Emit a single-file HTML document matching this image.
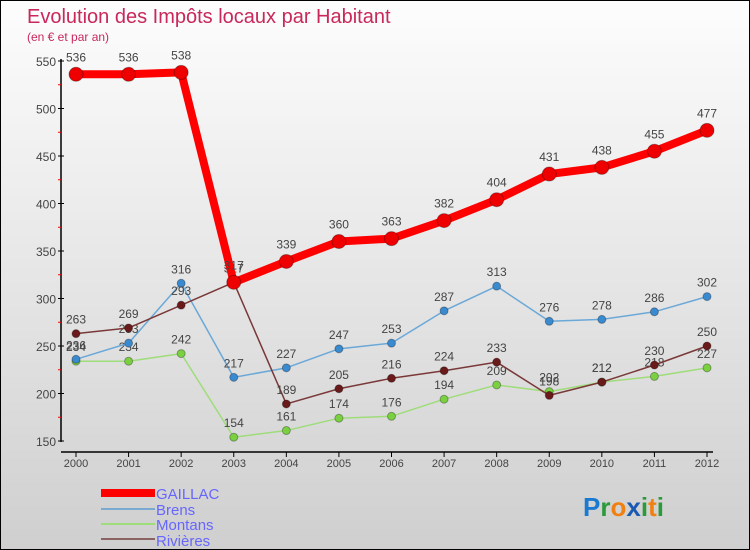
<!DOCTYPE html>
<html><head><meta charset="utf-8"><style>
body{margin:0}
#wrap{position:relative;width:748px;height:548px;border:1px solid #000;background:linear-gradient(#fdfdfd,#cfcfcf);font-family:"Liberation Sans",sans-serif;overflow:hidden}
svg text{font-family:"Liberation Sans",sans-serif}
</style></head><body>
<div id="wrap">
<svg id="svg" width="748" height="548">
<text x="26" y="22" font-size="20" fill="#c8285a">Evolution des Impôts locaux par Habitant</text>
<text x="26" y="40" font-size="12" fill="#c8285a">(en € et par an)</text>
<g id="axes"></g><g id="series"></g>
<g>
<rect x="100" y="488" width="54" height="8" fill="#f00"/>
<text x="155" y="498" font-size="15" fill="#66f">GAILLAC</text>
<rect x="100" y="507" width="54" height="2" fill="#7aaacf"/>
<text x="155" y="514" font-size="15" fill="#66f">Brens</text>
<rect x="100" y="522" width="54" height="2" fill="#9fdc7a"/>
<text x="155" y="529" font-size="15" fill="#66f">Montans</text>
<rect x="100" y="537" width="54" height="2" fill="#8b6363"/>
<text x="155" y="545" font-size="15" fill="#66f">Rivières</text>
</g>
<text x="582" y="515" font-size="26" font-weight="bold"><tspan fill="#1a7ad0">P</tspan><tspan fill="#2a9a3a">r</tspan><tspan fill="#f08010">o</tspan><tspan fill="#1a5ab0">x</tspan><tspan fill="#2a9a3a">i</tspan><tspan fill="#f08010">t</tspan><tspan fill="#2a9a3a">i</tspan></text>
</svg></div>
<script>
const years=["2000","2001","2002","2003","2004","2005","2006","2007","2008","2009","2010","2011","2012"];
const yTicks=[150,200,250,300,350,400,450,500,550];
const gaillac=[536,536,538,317,339,360,363,382,404,431,438,455,477];
const brens=[236,253,316,217,227,247,253,287,313,276,278,286,302];
const montans=[234,234,242,154,161,174,176,194,209,202,212,218,227];
const rivieres=[263,269,293,317,189,205,216,224,233,198,212,230,250];
const NS="http://www.w3.org/2000/svg";
function X(i){return 75+i*(706-75)/(years.length-1);}
function Y(v){return 440-(v-150)*(380/400);}
function mk(t,a,p){const e=document.createElementNS(NS,t);for(const k in a)e.setAttribute(k,a[k]);p.appendChild(e);return e;}
const ax=document.getElementById('axes');
let l=mk('line',{x1:60,y1:58,x2:60,y2:441,stroke:'#000','stroke-width':1.5},ax);

l=mk('line',{x1:60,y1:451,x2:712,y2:451,stroke:'#000','stroke-width':1.5},ax);

yTicks.forEach((v,i)=>{mk('line',{x1:57,x2:63,y1:Y(v),y2:Y(v),stroke:'#000'},ax);
 if(i<yTicks.length-1)mk('line',{x1:57,x2:60,y1:Y(v+25),y2:Y(v+25),stroke:'#f00'},ax);
 const t=mk('text',{x:55,y:Y(v)+5,'font-size':12,fill:'#444','text-anchor':'end'},ax);t.textContent=v;
 });
years.forEach((y,i)=>{mk('line',{x1:X(i),x2:X(i),y1:451,y2:456,stroke:'#000'},ax);
 const t=mk('text',{x:X(i),y:466,'font-size':11,fill:'#444','text-anchor':'middle'},ax);t.textContent=y;
 });
const sg=document.getElementById('series');
function draw(name,vals,col,dot,w,r){
 const g=mk('g',{},sg);
 const p=mk('polyline',{points:vals.map((v,i)=>X(i)+','+Y(v)).join(' '),fill:'none',stroke:col,'stroke-width':w,'stroke-linejoin':'round'},g);
 
 vals.forEach((v,i)=>{const c=mk('circle',{cx:X(i),cy:Y(v),r:r,fill:dot,stroke:'rgba(0,0,0,0.3)'},g);
  
  const t=mk('text',{x:X(i),y:Y(v)-(r+6),'font-size':12,fill:'#444','text-anchor':'middle'},g);t.textContent=v;
  });
}
draw('montans',montans,'#9fdc7a','#7ad040',1.5,4);
draw('brens',brens,'#6aa8d8','#3a8ad0',1.5,4);
draw('rivieres',rivieres,'#7a3838','#6a1a1a',1.5,4);
draw('gaillac',gaillac,'#f00','#e00',8,7);
</script></body></html>
